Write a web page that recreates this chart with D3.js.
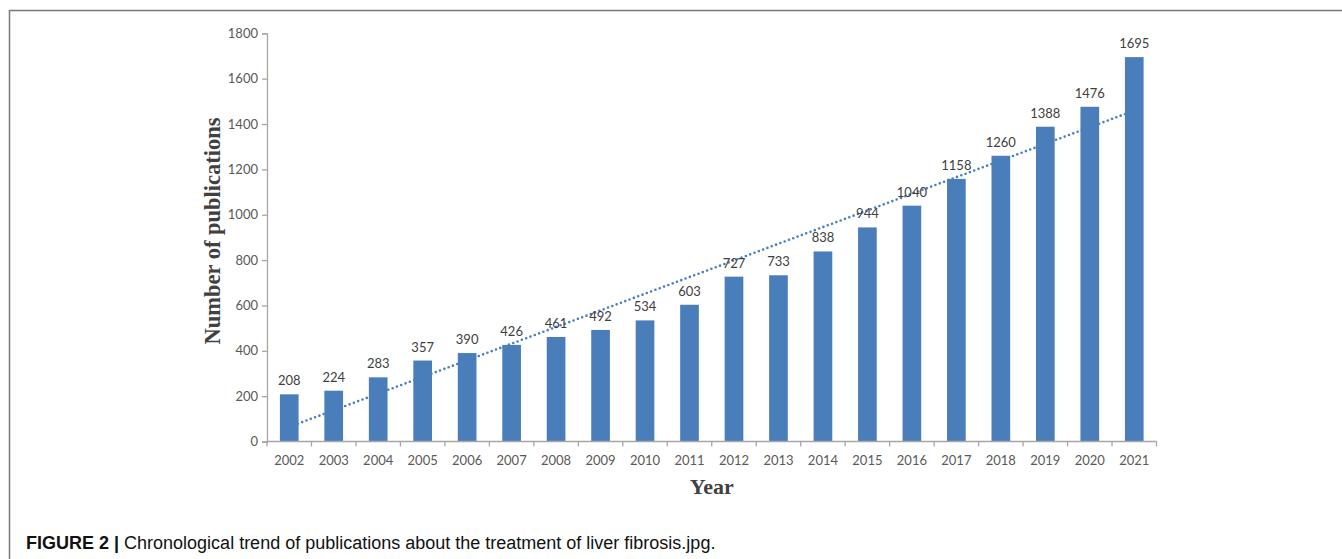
<!DOCTYPE html>
<html>
<head>
<meta charset="utf-8">
<script src="https://cdn.jsdelivr.net/npm/d3@7"></script>
<style>
  html, body { margin: 0; padding: 0; background: #fff; }
  svg { display: block; }
</style>
</head>
<body>
<svg id="chart" width="1342" height="559"></svg>
<script>
// Publications per year
const years = ["2002","2003","2004","2005","2006","2007","2008","2009","2010","2011",
               "2012","2013","2014","2015","2016","2017","2018","2019","2020","2021"];
const counts = [208,224,283,357,390,426,461,492,534,603,
                727,733,838,944,1040,1158,1260,1388,1476,1695];
const yTicks = [0,200,400,600,800,1000,1200,1400,1600,1800];

const svg = d3.select("#chart");
const W = 1342, H = 559;
const plot = { left: 267, right: 1156.5, top: 33.3, bottom: 441.5 };

const barColor = "#4a7ebb";
const axisColor = "#a6a6a6";
const tickText = "#595959";
const tickFont = "Lato, 'Open Sans', sans-serif";

// Outer frame (top and left rules)
svg.append("line").attr("x1", 9.5).attr("x2", W).attr("y1", 10.5).attr("y2", 10.5)
  .attr("stroke", "#777").attr("stroke-width", 1.5);
svg.append("line").attr("x1", 9.5).attr("x2", 9.5).attr("y1", 10).attr("y2", H)
  .attr("stroke", "#777").attr("stroke-width", 1.5);

const x = d3.scaleBand().domain(years).range([plot.left, plot.right]).paddingInner(0.58).paddingOuter(0.29);
const y = d3.scaleLinear().domain([0, 1800]).range([plot.bottom, plot.top]);

// Linear trend fitted to the yearly counts
const n = counts.length;
const idx = d3.range(n);
const mx = d3.mean(idx), my = d3.mean(counts);
const slope = d3.sum(idx, i => (i - mx) * (counts[i] - my)) / d3.sum(idx, i => (i - mx) ** 2);
const intercept = my - slope * mx;
const cx = i => x(years[i]) + x.bandwidth() / 2;

svg.append("line")
  .attr("x1", cx(0)).attr("y1", y(intercept))
  .attr("x2", cx(n - 1)).attr("y2", y(intercept + slope * (n - 1)))
  .attr("stroke", barColor).attr("stroke-width", 2.6)
  .attr("stroke-linecap", "round").attr("stroke-dasharray", "0 4.6");

// Bars
svg.append("g").selectAll("rect").data(counts).join("rect")
  .attr("x", (d, i) => x(years[i]))
  .attr("y", d => y(d))
  .attr("width", x.bandwidth())
  .attr("height", d => y(0) - y(d))
  .attr("fill", barColor);

// Value labels
svg.append("g").selectAll("text").data(counts).join("text")
  .attr("x", (d, i) => cx(i))
  .attr("y", d => y(d) - 9)
  .attr("text-anchor", "middle")
  .attr("font-family", tickFont).attr("font-size", 13)
  .attr("fill", "#404040")
  .text(d => d);

// Y axis
const yAxis = svg.append("g").attr("transform", `translate(${plot.left},0)`)
  .call(d3.axisLeft(y).tickValues(yTicks).tickFormat(d3.format("d"))
    .tickSize(5).tickPadding(4).tickSizeOuter(5));
yAxis.selectAll("path, line").attr("stroke", axisColor).attr("stroke-width", 1.3);
yAxis.selectAll("text").attr("font-family", tickFont).attr("font-size", 13).attr("fill", tickText);

// X axis with ticks on category boundaries
const xAxis = svg.append("g").attr("transform", `translate(0,${plot.bottom})`);
xAxis.append("line").attr("x1", plot.left).attr("x2", plot.right)
  .attr("stroke", axisColor).attr("stroke-width", 1.5);
const step = x.step();
xAxis.selectAll("line.tick").data(d3.range(n + 1)).join("line")
  .attr("class", "tick")
  .attr("x1", i => plot.left + i * step).attr("x2", i => plot.left + i * step)
  .attr("y1", 0).attr("y2", 5)
  .attr("stroke", axisColor).attr("stroke-width", 1.3);
xAxis.selectAll("text").data(years).join("text")
  .attr("x", d => x(d) + x.bandwidth() / 2)
  .attr("y", 23)
  .attr("text-anchor", "middle")
  .attr("font-family", tickFont).attr("font-size", 13).attr("fill", tickText)
  .text(d => d);

// Axis titles
svg.append("text")
  .attr("transform", `translate(220,231) rotate(-90)`)
  .attr("text-anchor", "middle")
  .attr("font-family", "'Liberation Serif', 'Times New Roman', serif")
  .attr("font-weight", "bold").attr("font-size", 22.5).attr("fill", "#404040")
  .text("Number of publications");
svg.append("text")
  .attr("x", (plot.left + plot.right) / 2).attr("y", 494)
  .attr("text-anchor", "middle")
  .attr("font-family", "'Liberation Serif', 'Times New Roman', serif")
  .attr("font-weight", "bold").attr("font-size", 22).attr("fill", "#404040")
  .text("Year");

// Caption
const cap = svg.append("text").attr("x", 26).attr("y", 549)
  .attr("font-family", "'Liberation Sans', Arial, sans-serif").attr("font-size", 18).attr("fill", "#111");
cap.append("tspan").attr("font-weight", "bold").text("FIGURE 2 | ");
cap.append("tspan").text("Chronological trend of publications about the treatment of liver fibrosis.jpg.");
</script>
</body>
</html>
